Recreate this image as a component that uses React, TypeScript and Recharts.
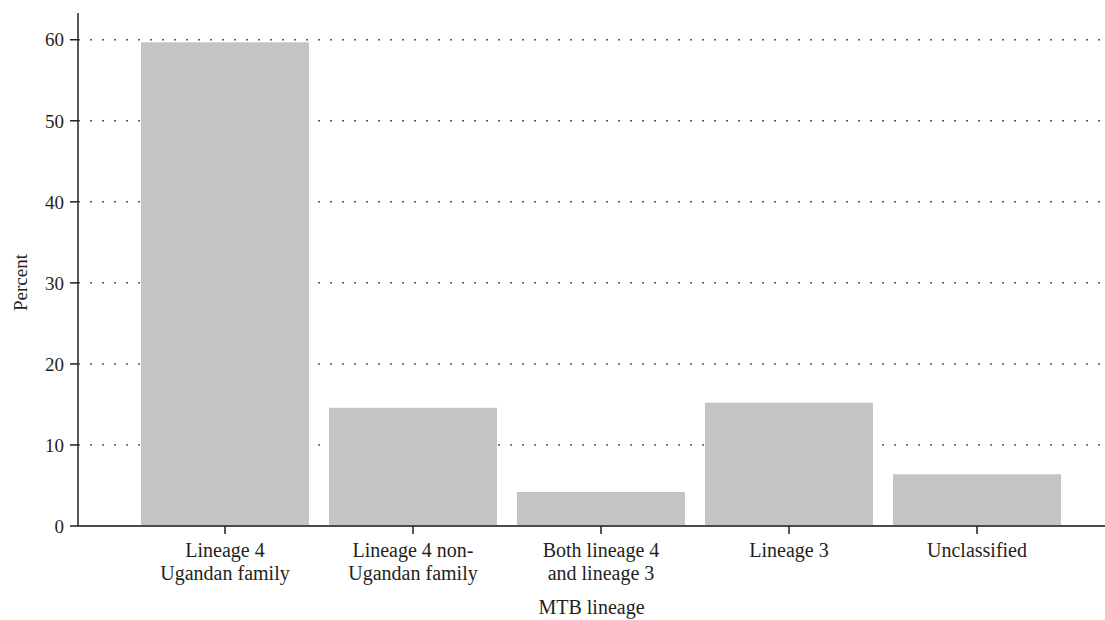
import { BarChart, Bar, XAxis, YAxis, CartesianGrid } from 'recharts';

const LINEAGES = [
  'Lineage 4\nUgandan family',
  'Lineage 4 non-\nUgandan family',
  'Both lineage 4\nand lineage 3',
  'Lineage 3',
  'Unclassified',
];
const PERCENTS = [59.7, 14.6, 4.2, 15.2, 6.4];
const Y_TICKS = [0, 10, 20, 30, 40, 50, 60];

const chartData = LINEAGES.map((name, i) => ({ name, value: PERCENTS[i] }));

const FONT = '"Liberation Serif", "DejaVu Serif", serif';
const INK = '#231f20';

const LineageTick = ({ x, y, payload }: any) => {
  const lines = String(payload.value).split('\n');
  return (
    <text x={x} y={y} textAnchor="middle" fontFamily={FONT} fontSize={20} fill={INK}>
      {lines.map((line, i) => (
        <tspan key={i} x={x} dy={i === 0 ? 21 : 23}>
          {line}
        </tspan>
      ))}
    </text>
  );
};

export default function App() {
  return (
    <div style={{ position: 'absolute', left: 0, top: 0, background: '#fff' }}>
      <BarChart
        width={1105}
        height={620}
        data={chartData}
        margin={{ top: 13, right: 0, left: 18, bottom: 0 }}
        barCategoryGap={10}
      >
        <CartesianGrid
          horizontal
          vertical={false}
          horizontalValues={Y_TICKS.slice(1)}
          stroke="#555"
          strokeWidth={1.5}
          strokeDasharray="2 10"
        />
        <XAxis
          dataKey="name"
          height={94}
          padding={{ left: 53, right: 34 }}
          tick={<LineageTick />}
          tickSize={8}
          interval={0}
          axisLine={{ stroke: '#4a4a4a', strokeWidth: 2 }}
          tickLine={{ stroke: INK, strokeWidth: 1.5 }}
          label={{
            value: 'MTB lineage',
            position: 'insideBottom',
            offset: 6,
            fontFamily: FONT,
            fontSize: 20,
            fill: INK,
          }}
        />
        <YAxis
          width={60}
          domain={[0, 63.3]}
          ticks={Y_TICKS}
          allowDataOverflow
          tickSize={8}
          tickMargin={6}
          tick={{ fontFamily: FONT, fontSize: 19, fill: INK }}
          axisLine={{ stroke: INK, strokeWidth: 1.5 }}
          tickLine={{ stroke: INK, strokeWidth: 1.5 }}
          label={{
            value: 'Percent',
            angle: -90,
            position: 'insideLeft',
            offset: 2,
            dy: 13,
            fontFamily: FONT,
            fontSize: 19,
            fill: INK,
            style: { textAnchor: 'middle' },
          }}
        />
        <Bar dataKey="value" fill="#c3c4c3" isAnimationActive={false} />
      </BarChart>
    </div>
  );
}
